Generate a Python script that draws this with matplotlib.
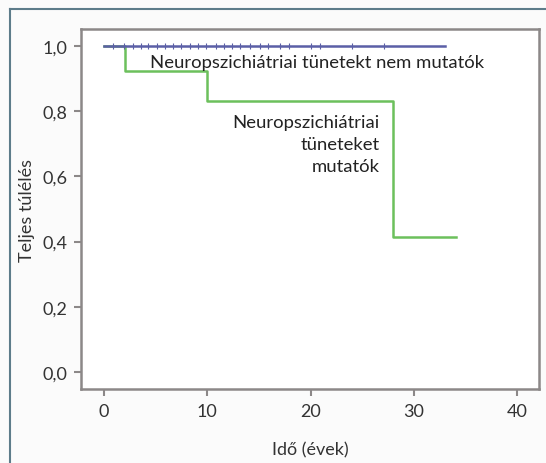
import matplotlib
matplotlib.use("Agg")
import matplotlib.pyplot as plt
from matplotlib.lines import Line2D

# Kaplan-Meier steps
nem_mutatok_t = [0, 33.0]
nem_mutatok_s = [1.0, 1.0]
nem_mutatok_cens = [0.9, 1.9, 2.8, 3.6, 4.3, 5.1, 5.9, 6.7, 7.5, 8.3, 9.1, 9.9,
                    10.8, 11.6, 12.4, 13.2, 14.1, 15.1, 15.9, 17.0, 17.9, 20.0,
                    20.9, 24.0, 27.1]

mutatok_t = [0, 2.0, 10.0, 28.0, 34.1]
mutatok_s = [1.0, 0.923, 0.831, 0.415, 0.415]

x_ticks = [0, 10, 20, 30, 40]
y_ticks = [0.0, 0.2, 0.4, 0.6, 0.8, 1.0]

plt.rcParams["font.family"] = ["Lato", "DejaVu Sans"]

fig = plt.figure(figsize=(5.46, 4.64), dpi=100)
fig.patch.set_facecolor("#fbfbfb")
W, H = 546, 464
ax = fig.add_axes([81 / W, 1 - 390 / H, (539 - 81) / W, (390 - 30) / H])
ax.set_facecolor("white")

# outer frame (left and top edge only)
fig.add_artist(Line2D([10 / W, 10 / W], [0, 1 - 10 / H], color="#5d7c8a", lw=1.5))
fig.add_artist(Line2D([10 / W, 1], [1 - 10 / H, 1 - 10 / H], color="#5d7c8a", lw=1.5))

blue = "#5b5fa6"
green = "#6cc05c"

ax.step(nem_mutatok_t, nem_mutatok_s, where="post", color=blue, lw=1.8, zorder=3)
ax.plot(nem_mutatok_cens, [1.0] * len(nem_mutatok_cens), ls="none", marker="|",
        ms=4, mew=0.8, color=blue, zorder=4)
ax.step(mutatok_t, mutatok_s, where="post", color=green, lw=1.8, zorder=2)

ax.set_xlim(-2.23, 42.13)
ax.set_ylim(-0.052, 1.052)
ax.set_xticks(x_ticks)
ax.set_yticks(y_ticks)
ax.set_xticklabels([str(v) for v in x_ticks])
ax.set_yticklabels([f"{v:.1f}".replace(".", ",") for v in y_ticks])

for s in ax.spines.values():
    s.set_color("#8c8888")
    s.set_linewidth(1.8)
ax.tick_params(direction="out", length=5, width=1.5, color="#8c8888",
               labelsize=13, labelcolor="#333333", pad=5)

ax.set_xlabel("Idő (évek)", fontsize=13, color="#333333", labelpad=16)
ax.set_ylabel("Teljes túlélés", fontsize=13, color="#333333", labelpad=5)

ax.text(4.5, 0.95, "Neuropszichiátriai tünetekt nem mutatók", fontsize=13.3,
        color="#222222", va="center", ha="left")
ax.text(26.7, 0.70, "Neuropszichiátriai\ntüneteket\nmutatók", fontsize=13.3,
        color="#222222", va="center", ha="right", linespacing=1.45)

fig.savefig("out.png", dpi=100, facecolor=fig.get_facecolor())
